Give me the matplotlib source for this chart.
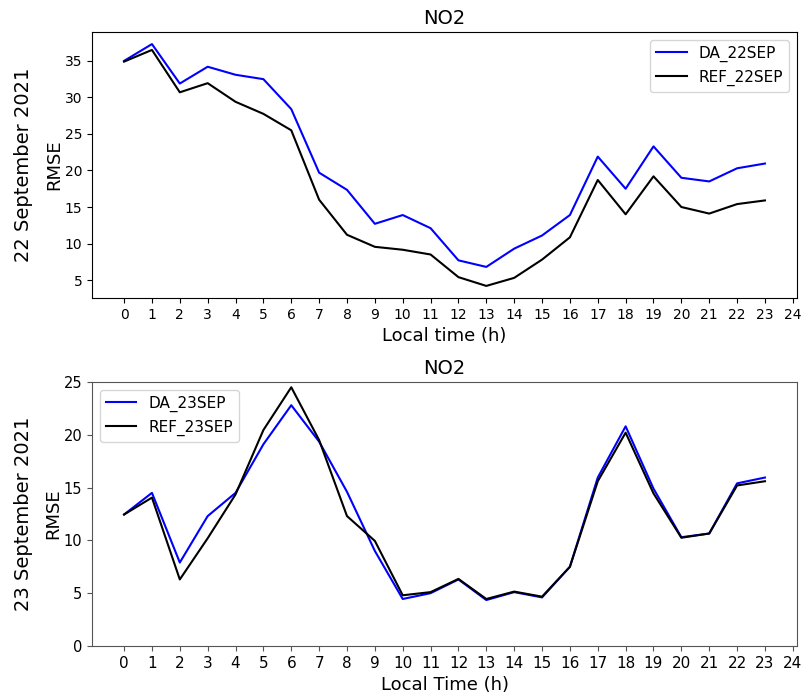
import matplotlib
matplotlib.use("Agg")
import matplotlib.pyplot as plt
import numpy as np

hours = list(range(24))

# 22 September
da_22sep = [35.0, 37.3, 31.9, 34.2, 33.1, 32.5, 28.4, 19.7, 17.35, 12.7, 13.9, 12.1,
            7.7, 6.8, 9.3, 11.1, 13.9, 21.9, 17.5, 23.3, 19.0, 18.5, 20.3, 20.95]
ref_22sep = [34.9, 36.5, 30.7, 31.95, 29.4, 27.75, 25.5, 16.0, 11.2, 9.55, 9.15, 8.5,
             5.4, 4.2, 5.3, 7.8, 10.85, 18.7, 14.0, 19.2, 15.0, 14.1, 15.4, 15.9]

# 23 September
da_23sep = [12.45, 14.5, 7.9, 12.3, 14.5, 19.1, 22.8, 19.35, 14.6, 9.0, 4.45, 5.0,
            6.3, 4.35, 5.1, 4.6, 7.5, 15.95, 20.8, 14.9, 10.3, 10.65, 15.4, 15.95]
ref_23sep = [12.45, 14.05, 6.3, 10.2, 14.35, 20.45, 24.5, 19.5, 12.3, 9.95, 4.8, 5.1,
             6.35, 4.45, 5.15, 4.67, 7.5, 15.6, 20.2, 14.45, 10.25, 10.65, 15.2, 15.6]

xticks = list(range(25))

fig = plt.figure(figsize=(8.01, 6.94), dpi=100)

# top panel
ax1 = fig.add_axes([0.1149, 0.5706, 0.8801, 0.3833])
ax1.plot(hours, da_22sep, color="blue", lw=1.5, label="DA_22SEP")
ax1.plot(hours, ref_22sep, color="black", lw=1.5, label="REF_22SEP")
ax1.set_xticks(xticks)
ax1.tick_params(labelsize=10)
ax1.set_title("NO2", fontsize=14)
ax1.set_xlabel("Local time (h)", fontsize=13)
ax1.set_ylabel("RMSE", fontsize=13, labelpad=1)
ax1.legend(loc="upper right", fontsize=11)

# bottom panel
ax2 = fig.add_axes([0.1149, 0.0692, 0.8801, 0.3804])
ax2.plot(hours, da_23sep, color="blue", lw=1.5, label="DA_23SEP")
ax2.plot(hours, ref_23sep, color="black", lw=1.5, label="REF_23SEP")
ax2.set_xticks(xticks)
ax2.set_ylim(0, 25)
ax2.tick_params(axis="x", labelsize=11)
ax2.tick_params(axis="y", labelsize=10.5)
ax2.tick_params(color="#555555")
for sp in ax2.spines.values():
    sp.set_color("#555555")
ax2.set_title("NO2", fontsize=14)
ax2.set_xlabel("Local Time (h)", fontsize=13)
ax2.set_ylabel("RMSE", fontsize=13, labelpad=1)
ax2.legend(loc="upper left", fontsize=11)

fig.text(0.029, 0.7622, "22 September 2021", rotation=90, fontsize=14, ha="center", va="center")
fig.text(0.029, 0.2594, "23 September 2021", rotation=90, fontsize=14, ha="center", va="center")

fig.savefig("out.png", dpi=100)
